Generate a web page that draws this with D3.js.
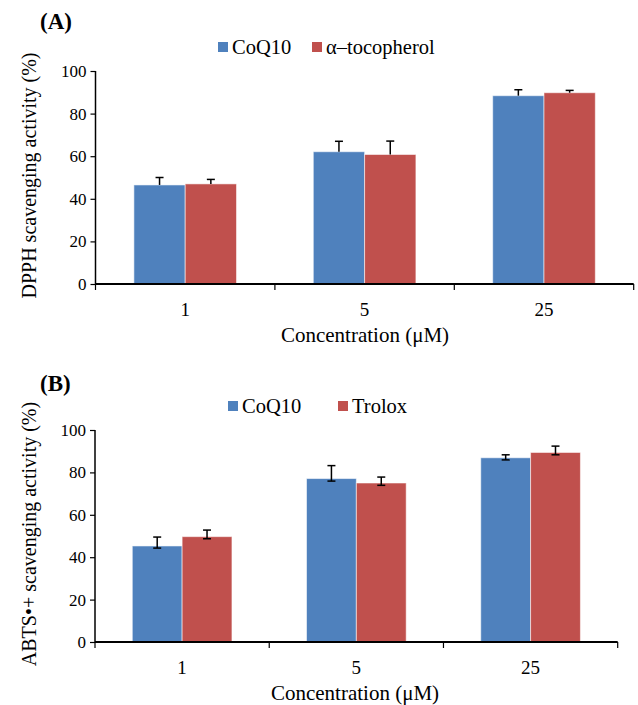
<!DOCTYPE html>
<html>
<head>
<meta charset="utf-8">
<title>DPPH / ABTS scavenging activity</title>
<script src="https://d3js.org/d3.v7.min.js"></script>
<style>
    body { margin: 0; background: #fff; }
    svg text { font-family: "Liberation Serif", "Times New Roman", serif; fill: #000; }
</style>
</head>
<body>
<div id="chart"></div>
<script>
    // values
    var categories = ["1", "5", "25"];
    var yTicks = [0, 20, 40, 60, 80, 100];

    // (A) DPPH
    var dpphCoQ10 = [46.5, 62.1, 88.4];
    var dpphCoQ10Up = [3.5, 4.9, 2.8];
    var dpphToco = [47.0, 60.8, 89.8];
    var dpphTocoUp = [2.1, 6.3, 1.1];

    // (B) ABTS
    var abtsCoQ10 = [45.3, 77.1, 86.9];
    var abtsCoQ10Up = [4.2, 6.1, 1.4];
    var abtsCoQ10Down = [1.0, 1.2, 1.0];
    var abtsTrolox = [49.7, 75.0, 89.4];
    var abtsTroloxUp = [3.1, 2.8, 3.0];
    var abtsTroloxDown = [1.0, 1.1, 1.1];

    var colors = ["#4F81BD", "#C0504D"];

    var svg = d3.select("#chart").append("svg")
        .attr("width", 638)
        .attr("height", 705);

    function drawPanel(p) {
        var g = svg.append("g");

        var x = d3.scaleBand().domain(categories).range([p.left, p.right]).padding(0);
        var y = d3.scaleLinear().domain([0, 100]).range([p.bottom, p.top]);
        var half = x.bandwidth() * 0.286;
        var sub = d3.scaleBand().domain([0, 1]).range([-half, half]);

        // bars
        p.series.forEach(function(s, si) {
            g.selectAll(null)
                .data(s.values)
                .enter().append("rect")
                .attr("x", function(d, i) { return x(categories[i]) + x.bandwidth() / 2 + sub(si); })
                .attr("width", sub.bandwidth())
                .attr("y", function(d) { return y(d); })
                .attr("height", function(d) { return y(0) - y(d); })
                .attr("fill", colors[si])
                .attr("stroke", "rgba(255,255,255,0.55)")
                .attr("stroke-width", 1);
        });

        // error bars
        p.series.forEach(function(s, si) {
            s.values.forEach(function(v, i) {
                var cx = x(categories[i]) + x.bandwidth() / 2 + sub(si) + sub.bandwidth() / 2;
                var hi = y(v + s.up[i]);
                var lo = y(v - (s.down ? s.down[i] : 0));
                g.append("line").attr("x1", cx).attr("x2", cx).attr("y1", hi).attr("y2", lo)
                    .attr("stroke", "#000").attr("stroke-width", 1.5);
                g.append("line").attr("x1", cx - 4).attr("x2", cx + 4).attr("y1", hi).attr("y2", hi)
                    .attr("stroke", "#000").attr("stroke-width", 1.5);
                if (s.down) {
                    g.append("line").attr("x1", cx - 4).attr("x2", cx + 4).attr("y1", lo).attr("y2", lo)
                        .attr("stroke", "#000").attr("stroke-width", 1.5);
                }
            });
        });

        // y axis
        var yAxis = g.append("g")
            .attr("transform", "translate(" + p.left + ",0)")
            .call(d3.axisLeft(y).tickValues(yTicks).tickSize(5).tickPadding(4));
        yAxis.select(".domain").attr("stroke-width", 1.5).attr("d", "M0," + p.bottom + "V" + p.top);
        yAxis.selectAll(".tick line").attr("stroke-width", 1.2);
        yAxis.selectAll("text").style("font-size", "17px");

        // x axis: ticks between categories
        var xAxis = g.append("g").attr("transform", "translate(0," + p.bottom + ")");
        xAxis.append("line").attr("x1", p.left).attr("x2", p.right)
            .attr("stroke", "#000").attr("stroke-width", 2);
        var bounds = categories.map(function(c) { return x(c); }).concat([p.right]);
        xAxis.selectAll(".xt").data(bounds).enter().append("line")
            .attr("x1", function(d) { return d; }).attr("x2", function(d) { return d; })
            .attr("y1", 0).attr("y2", 6)
            .attr("stroke", "#000").attr("stroke-width", 1.2);
        xAxis.selectAll(".xl").data(categories).enter().append("text")
            .attr("x", function(d) { return x(d) + x.bandwidth() / 2; })
            .attr("y", 32)
            .attr("text-anchor", "middle")
            .style("font-size", "19px")
            .text(function(d) { return d; });

        g.append("text")
            .attr("x", p.xTitleX)
            .attr("y", p.bottom + 58)
            .attr("text-anchor", "middle")
            .style("font-size", "21px")
            .text("Concentration (μM)");

        g.append("text")
            .attr("transform", "translate(" + 36 + "," + ((p.top + p.bottom) / 2 - 2) + ") rotate(-90)")
            .attr("text-anchor", "middle")
            .style("font-size", "20px")
            .text(p.yTitle);

        g.append("text")
            .attr("x", 40)
            .attr("y", p.labelY)
            .style("font-size", "23px")
            .style("font-weight", "bold")
            .text(p.label);

        // legend
        p.series.forEach(function(s, si) {
            var lx = p.legendX[si];
            g.append("rect").attr("x", lx).attr("y", p.legendY - 5)
                .attr("width", 10).attr("height", 10).attr("fill", colors[si]);
            g.append("text").attr("x", lx + 14).attr("y", p.legendY + 7)
                .style("font-size", "20.5px").text(s.name);
        });
    }

    drawPanel({
        label: "(A)", labelY: 29,
        top: 71, bottom: 284, left: 95.5, right: 633.7,
        xTitleX: 365,
        yTitle: "DPPH scavenging activity (%)",
        legendX: [218, 312], legendY: 47,
        series: [
            { name: "CoQ10", values: dpphCoQ10, up: dpphCoQ10Up },
            { name: "α–tocopherol", values: dpphToco, up: dpphTocoUp }
        ]
    });

    drawPanel({
        label: "(B)", labelY: 391,
        top: 430, bottom: 642, left: 95, right: 617.7,
        xTitleX: 355,
        yTitle: "ABTS•+ scavenging activity (%)",
        legendX: [228, 338], legendY: 406,
        series: [
            { name: "CoQ10", values: abtsCoQ10, up: abtsCoQ10Up, down: abtsCoQ10Down },
            { name: "Trolox", values: abtsTrolox, up: abtsTroloxUp, down: abtsTroloxDown }
        ]
    });
</script>
</body>
</html>
